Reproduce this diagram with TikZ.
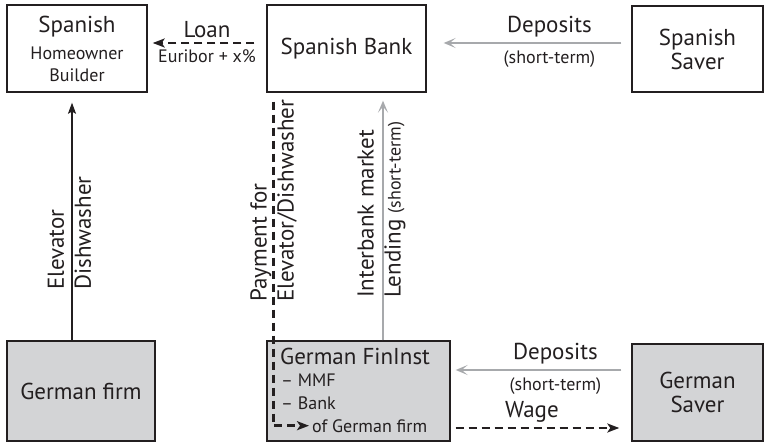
\documentclass[tikz,border=0pt]{standalone}
\usepackage{fontspec}
\setmainfont{PT Sans}
\usetikzlibrary{arrows.meta,positioning,calc}
\definecolor{boxfill}{RGB}{211,212,214}
\definecolor{arrowgray}{RGB}{167,169,172}
\definecolor{inkblack}{RGB}{35,31,32}
\newcommand{\bigfont}{\fontsize{23}{27}\selectfont}
\newcommand{\smfont}{\fontsize{18}{21}\selectfont}

\begin{document}
\begin{tikzpicture}[x=1pt,y=1pt,>=Stealth, every node/.style={font=\bigfont,text=inkblack}]
    \tikzset{box/.style={draw=inkblack,line width=1.4pt,align=center,inner sep=0pt}}
    \tikzset{gbox/.style={box,fill=boxfill}}
    \tikzset{garrow/.style={-{Stealth[length=12pt,width=10pt,inset=6pt]},arrowgray,line width=2.5pt}}
    \tikzset{darrow/.style={-{Stealth[length=12pt,width=9pt,inset=3pt]},inkblack,line width=2.5pt,dash pattern=on 8pt off 5pt}}
    \tikzset{sarrow/.style={-{Stealth[length=11pt,width=8pt,inset=2pt]},inkblack,line width=1.3pt}}
    \tikzset{vlabel/.style={rotate=90,anchor=west,align=left,inner sep=0pt}}
    \tikzset{inlabel/.style={anchor=base west,inner sep=0pt}}

    \useasboundingbox (0,0) rectangle (765,444);

    % Top row (Spain)
    \node[box,minimum width=140pt,minimum height=87pt] (hw) at (77,395.5) {Spanish\\{\smfont Homeowner}\\[-5pt]{\smfont Builder}};
    \node[box,minimum width=159pt,minimum height=87pt] (bank) at (346.5,395.5) {Spanish Bank};
    \node[box,minimum width=131pt,minimum height=86pt] (ssaver) at (697.5,395) {Spanish\\[-3pt]Saver};

    % Bottom row (Germany)
    \node[gbox,minimum width=148pt,minimum height=100pt] (firm) at (81,53) {German firm};
    \node[gbox,minimum width=183pt,minimum height=100pt] (fin) at (358.5,53) {};
    \node[gbox,minimum width=131pt,minimum height=97pt] (gsaver) at (697.5,51.5) {German\\[-3pt]Saver};
    \node[inlabel] (fintitle) at (280,79) {German FinInst};
    \node[inlabel,font=\smfont] (finmmf) at (281,57) {-- MMF};
    \node[inlabel,font=\smfont] (finbank) at (281,34) {-- Bank};
    \node[inlabel,font=\smfont] (ofgf) at (312,12) {of German firm};

    % Horizontal flows
    \draw[darrow,shorten <=12pt,shorten >=5pt] ([yshift=5.5pt]bank.west) -- ([yshift=5.5pt]hw.east)
        node[midway,above=1pt] (loan) {Loan}
        node[midway,below=2pt,font=\smfont] (euribor) {Euribor + x\%};
    \draw[garrow,shorten <=10pt,shorten >=17pt] ([yshift=6pt]ssaver.west) -- ([yshift=5.5pt]bank.east)
        node[pos=0.4,above=1pt] (sdep) {Deposits}
        node[pos=0.4,below=3pt,font=\smfont] (sdepterm) {(short-term)};
    \draw[garrow,shorten <=10pt,shorten >=5pt] ([yshift=22.5pt]gsaver.west) -- ([yshift=21pt]fin.east)
        node[pos=0.42,above=1pt] (gdep) {Deposits}
        node[pos=0.42,below=3pt,font=\smfont] (gdepterm) {(short-term)};
    \draw[darrow,shorten <=5pt,shorten >=12pt] ([yshift=-37pt]fin.east) -- ([yshift=-35.5pt]gsaver.west)
        node[pos=0.45,above=1pt] (wage) {Wage};

    % Vertical flows
    \draw[sarrow,shorten >=10pt] ([xshift=-9pt]firm.north) -- ([xshift=-9pt]firm.north |- hw.south);
    \node[vlabel] (goods) at (69.5,154) {Elevator\\Dishwasher};

    \draw[darrow,shorten <=9pt,shorten >=3pt] ([xshift=7pt]bank.south west) |- (ofgf.west);
    \node[vlabel] (payment) at (273.5,142) {Payment for\\Elevator/Dishwasher};

    \draw[garrow,shorten >=8pt] ([xshift=24.5pt]fin.north) -- ([xshift=24.5pt]fin.north |- bank.south);
    \node[vlabel] (interbank) at (381.5,146) {Interbank market\\Lending {\smfont (short-term)}};
\end{tikzpicture}
\end{document}
